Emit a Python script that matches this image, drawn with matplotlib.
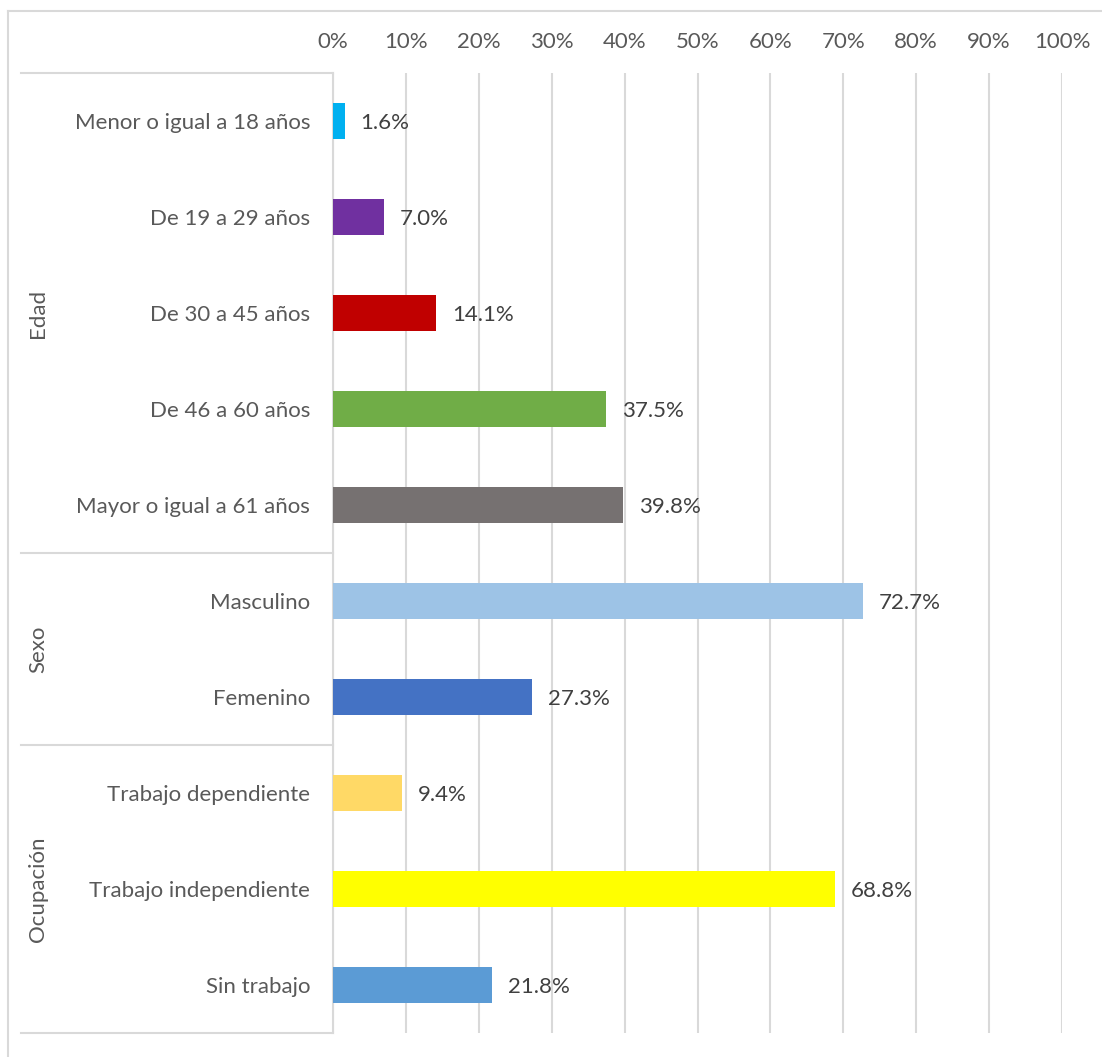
import matplotlib.pyplot as plt
from matplotlib.lines import Line2D

plt.rcParams['font.family'] = ['Lato', 'DejaVu Sans']

# data
categories = ["Menor o igual a 18 años", "De 19 a 29 años", "De 30 a 45 años",
              "De 46 a 60 años", "Mayor o igual a 61 años",
              "Masculino", "Femenino",
              "Trabajo dependiente", "Trabajo independiente", "Sin trabajo"]
values = [1.6, 7.0, 14.1, 37.5, 39.8, 72.7, 27.3, 9.4, 68.8, 21.8]
colors = ["#00B0F0", "#7030A0", "#C00000", "#70AD47", "#767171",
          "#9DC3E6", "#4472C4", "#FFD966", "#FFFF00", "#5B9BD5"]
groups = ["Edad", "Sexo", "Ocupación"]
group_sizes = [5, 2, 3]
ticks = [0, 10, 20, 30, 40, 50, 60, 70, 80, 90, 100]

W, H = 1102, 1057
fs = 16
fig = plt.figure(figsize=(W / 100, H / 100), dpi=100)
ax = fig.add_axes([333 / W, 1 - 1033 / H, 729 / W, 960 / H])

grid_c = "#D9D9D9"
text_c = "#595959"

ypos = list(range(len(categories)))
ax.barh(ypos, values, height=0.365, color=colors, zorder=3)
for y, v in zip(ypos, values):
    ax.annotate(f"{v:.1f}%", (v, y), xytext=(11.5, 0), textcoords="offset points",
                va="center_baseline", ha="left", fontsize=fs, color="#404040")

ax.set_xlim(0, 100)
ax.set_ylim(len(categories) - 0.5, -0.5)
ax.set_xticks(ticks)
ax.set_xticklabels([f"{t}%" for t in ticks])
ax.xaxis.tick_top()
ax.tick_params(axis="x", length=0, pad=15, labelsize=fs, labelcolor=text_c)
ax.set_yticks(ypos)
ax.set_yticklabels(categories)
ax.tick_params(axis="y", length=0, pad=16.5, labelsize=fs, labelcolor=text_c)
ax.grid(axis="x", color=grid_c, linewidth=1.5, zorder=0)
for s in ["top", "right", "bottom"]:
    ax.spines[s].set_visible(False)
ax.spines["left"].set_color(grid_c)
ax.spines["left"].set_linewidth(1.5)

# group boxes on the category axis
tr = ax.get_yaxis_transform()
x0 = (21 - 333) / 729
edges = [-0.5]
for n in group_sizes:
    edges.append(edges[-1] + n)
for e in edges:
    ax.add_line(Line2D([x0, 0], [e, e], transform=tr, color=grid_c,
                       linewidth=1.5, clip_on=False))
for g, a, b in zip(groups, edges[:-1], edges[1:]):
    ax.text(x0 + 17 / 729, (a + b) / 2, g, transform=tr, rotation=90,
            ha="center", va="center", fontsize=fs, color=text_c)

# chart border
fig.add_artist(Line2D([8 / W, 8 / W], [0, 1 - 11 / H], transform=fig.transFigure,
                      color=grid_c, linewidth=1.5))
fig.add_artist(Line2D([8 / W, 1], [1 - 11 / H, 1 - 11 / H], transform=fig.transFigure,
                      color=grid_c, linewidth=1.5))

fig.savefig("out.png", dpi=100)
